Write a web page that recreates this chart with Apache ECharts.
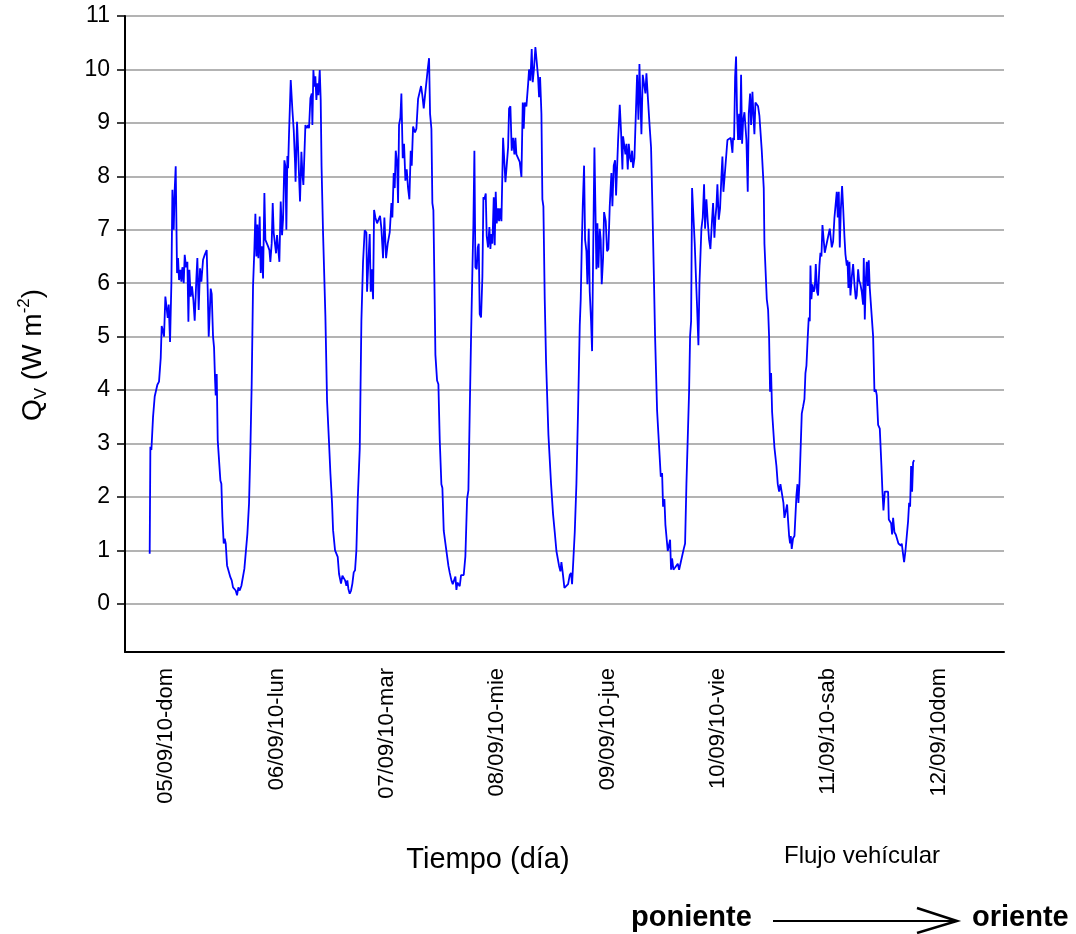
<!DOCTYPE html>
<html>
<head>
<meta charset="utf-8">
<script src="https://cdn.jsdelivr.net/npm/echarts/dist/echarts.min.js"></script>
<style>html,body{margin:0;padding:0;background:#fff}#c{width:1076px;height:934px}</style>
</head>
<body>
<div id="c"></div>
<script>
// x values: hours counted from 04/09/10 00:00 ; y values: Qv (W m-2)
const dayHours = [24, 48, 72, 96, 120, 144, 168, 192];
const dayLabels = ['05/09/10-dom','06/09/10-lun','07/09/10-mar','08/09/10-mie','09/09/10-jue','10/09/10-vie','11/09/10-sab','12/09/10dom'];
const yTicks = [0,1,2,3,4,5,6,7,8,9,10,11];

const seg1 = [[20.37,0.94],[20.52,2.94],[20.74,2.88],[21.10,3.5],[21.46,3.88],[21.82,3.88],[22.04,4.1],[22.40,4.16],[22.77,4.6],[22.98,5.2],[23.27,5.1],[23.49,5.0],[23.78,5.75],[24.07,5.75],[24.29,5.35],[24.51,5.6],[24.80,4.9],[25.09,6.0],[25.31,7.75],[25.60,7.0],[25.81,7.75],[26.03,8.19],[26.32,6.19],[26.54,6.47],[26.76,6.06],[27.05,6.25],[27.26,6.03],[27.48,6.3],[27.77,6.0],[27.99,6.53],[28.28,6.3],[28.57,6.4],[28.79,5.28],[29.00,6.25],[29.29,5.75],[29.58,5.94],[29.87,5.69],[30.16,5.3],[30.53,6.1],[30.74,6.47],[31.03,5.5],[31.32,6.28],[31.61,6.03],[31.98,6.44],[32.34,6.53],[32.56,6.5],[32.77,6.62],[32.99,5.88],[33.21,5.0],[33.43,5.44],[33.64,5.9],[33.86,5.8],[34.15,5.0],[34.37,4.8],[34.59,4.19],[34.73,3.9],[34.95,4.3],[35.17,3.06],[35.46,3.06],[35.75,2.31],[35.96,2.25],[36.18,1.63],[36.47,1.13],[36.69,1.22],[36.91,1.13],[37.20,0.72],[37.63,0.69],[37.92,0.5],[38.21,0.44],[38.50,0.31],[38.79,0.31],[39.08,0.25],[39.37,0.16],[39.66,0.31],[39.95,0.25],[40.32,0.34],[40.68,0.34],[40.97,0.66],[41.26,0.69]];
const seg2 = [[41.62,1.31],[41.98,1.88],[42.27,2.88],[42.56,4.13],[42.85,5.94],[43.14,6.63],[43.36,7.3],[43.58,6.5],[43.80,7.1],[44.01,6.47],[44.30,7.25],[44.52,6.19],[44.74,6.69],[45.03,6.09],[45.32,7.69],[45.54,6.81],[45.83,6.78],[46.12,6.69],[46.41,6.62],[46.62,6.4],[46.91,6.75],[47.13,7.5],[47.35,6.94],[47.64,6.94],[47.86,6.56],[48.07,6.9],[48.36,6.88],[48.58,6.4],[48.87,7.53],[49.16,6.9],[49.38,7.19],[49.67,8.3],[49.89,8.19],[50.10,7.0],[50.32,8.38],[50.47,8.15],[50.68,8.8],[51.05,9.8],[51.41,9.24],[51.70,8.87],[51.99,8.25],[52.10,7.9],[52.42,9.02],[52.64,8.56],[52.86,8.0],[53.07,7.53],[53.37,8.46],[53.58,8.06],[53.80,7.84],[54.24,8.96],[54.53,8.9],[54.82,8.96],[55.03,8.9],[55.33,9.46],[55.62,9.55],[55.76,8.96],[55.98,9.99],[56.20,9.68],[56.41,9.87],[56.63,9.43],[56.85,9.74],[57.07,9.52],[57.36,9.99],[57.57,9.43],[57.75,8.2],[58.08,6.94],[58.59,5.38],[58.95,3.8],[59.39,3.0],[59.68,2.44],[60.04,1.88],[60.26,1.38],[60.69,1.0],[60.98,1.03],[61.27,0.88],[61.56,0.56],[61.85,0.53],[61.99,0.38],[62.29,0.53],[62.58,0.5],[62.87,0.44],[63.16,0.34],[63.37,0.44],[63.59,0.28],[63.88,0.19],[64.17,0.25],[64.46,0.38],[64.75,0.59],[65.04,0.63],[65.33,1.0]];
const seg3 = [[65.62,1.94],[66.06,2.9],[66.42,5.3],[66.78,6.4],[67.14,6.99],[67.51,6.95],[67.65,5.84],[67.94,6.4],[68.23,6.92],[68.45,5.84],[68.67,6.26],[68.96,5.7],[69.18,7.37],[69.46,7.23],[69.83,7.12],[70.19,7.09],[70.48,7.26],[70.77,7.02],[71.13,6.47],[71.42,7.23],[71.79,6.47],[72.15,6.74],[72.58,6.95],[72.95,7.5],[73.16,7.23],[73.45,8.06],[73.67,7.78],[73.89,8.48],[74.18,8.27],[74.40,7.5],[74.61,8.96],[74.90,9.1],[75.12,9.55],[75.41,8.34],[75.70,8.61],[75.99,7.92],[76.28,8.13],[76.57,7.78],[76.86,7.57],[77.15,8.48],[77.37,8.2],[77.66,8.93],[78.09,8.82],[78.38,8.89],[78.75,9.45],[79.11,9.48],[79.40,9.69],[79.69,9.51],[79.98,9.27],[80.34,9.58],[80.56,9.58],[80.85,10.0],[81.14,10.21],[81.36,9.17],[81.65,8.89],[81.86,7.5],[82.08,7.37],[82.30,6.05],[82.52,4.66],[82.88,4.18],[83.17,4.11],[83.46,3.07],[83.82,2.24],[84.04,2.17],[84.33,1.37],[84.62,1.34],[84.91,0.99],[85.13,0.96],[85.35,0.71],[85.64,0.58],[86.00,0.44],[86.29,0.37],[86.58,0.44],[86.87,0.51],[87.09,0.26],[87.30,0.4],[87.59,0.37],[87.81,0.33],[88.10,0.54],[88.39,0.51],[88.68,0.54],[89.04,0.89]];
const seg4 = [[89.41,1.96],[89.70,2.13],[89.99,3.62],[90.28,5.01],[90.57,6.26],[90.78,7.09],[91.00,8.48],[91.22,6.3],[91.51,6.26],[91.73,6.67],[91.94,6.74],[92.16,5.42],[92.45,5.36],[92.74,6.12],[92.96,7.61],[93.18,7.57],[93.47,7.68],[93.68,6.88],[93.97,6.67],[94.26,7.05],[94.48,6.64],[94.70,6.92],[94.92,6.74],[95.21,7.61],[95.42,6.71],[95.64,7.71],[95.86,7.12],[96.15,7.4],[96.37,7.16],[96.58,7.4],[96.88,7.16],[97.24,8.72],[97.53,8.72],[97.75,7.89],[98.04,7.92],[98.33,8.54],[98.54,9.27],[98.83,9.31],[99.12,8.48],[99.41,8.72],[99.70,8.41],[99.92,8.72],[100.14,8.41],[100.50,8.41],[100.86,8.27],[101.23,7.99],[101.52,9.38],[101.73,8.89],[101.95,9.38],[102.31,9.31],[102.68,9.72],[102.89,10.0],[103.18,9.79],[103.47,10.38],[103.69,9.76],[103.98,10.03],[104.27,10.42],[104.49,10.42],[104.85,9.86],[105.07,9.48],[105.29,9.86],[105.58,9.17],[105.79,7.57],[106.01,7.44],[106.30,5.7],[106.59,4.53],[106.81,4.56],[107.10,3.17],[107.39,3.14],[107.68,2.24],[108.11,1.68],[108.48,1.34],[108.84,0.99],[109.13,0.99],[109.42,0.71],[109.71,0.61],[109.93,0.78],[110.22,0.58],[110.58,0.30],[111.01,0.30],[111.38,0.37],[111.74,0.54],[112.03,0.58],[112.25,0.37],[112.54,0.85]];
const seg5 = [[112.83,1.34],[113.19,2.24],[113.55,3.62],[113.92,5.22],[114.13,5.7],[114.35,6.67],[114.57,7.44],[114.86,8.2],[115.08,6.81],[115.37,6.6],[115.58,5.98],[115.87,7.02],[116.09,5.84],[116.38,5.29],[116.60,4.73],[116.82,6.47],[117.11,8.54],[117.32,7.44],[117.54,6.26],[117.76,7.12],[117.98,6.29],[118.27,7.02],[118.48,6.81],[118.70,5.98],[118.99,6.47],[119.21,7.33],[119.57,7.16],[119.86,6.6],[120.15,6.64],[120.44,7.44],[120.80,8.06],[121.02,7.44],[121.31,8.2],[121.60,8.3],[121.82,7.64],[122.04,7.64],[122.26,8.68],[122.62,9.34],[122.91,8.82],[123.20,8.13],[123.34,8.75],[123.63,8.75],[123.85,8.41],[124.07,8.61],[124.36,8.13],[124.58,8.61],[124.87,8.34],[125.08,8.27],[125.30,8.48],[125.52,8.16],[125.81,8.34],[126.10,8.34],[126.39,9.9],[126.68,9.06],[126.90,10.1],[127.11,10.07],[127.33,8.79],[127.62,9.9],[127.91,9.93],[128.20,9.55],[128.42,9.93],[128.71,9.51],[129.07,9.0],[129.43,8.54],[129.72,7.44],[130.01,6.26],[130.30,5.01],[130.52,4.32],[130.74,3.62],[131.03,3.17],[131.32,3.14],[131.54,2.38],[131.83,2.45],[132.04,1.82],[132.33,1.96],[132.55,1.48],[132.77,1.48],[133.06,0.99],[133.35,0.99],[133.57,1.2],[133.78,0.64],[134.00,0.85],[134.29,0.64],[134.66,0.68],[134.94,0.71],[135.24,0.75],[135.53,0.64],[135.89,0.78],[136.25,0.78],[136.54,1.03],[136.83,1.13]];
const seg6 = [[137.12,2.24],[137.41,2.24],[137.70,3.97],[137.92,5.01],[138.14,5.29],[138.35,7.78],[138.64,7.78],[138.93,6.74],[139.22,6.05],[139.44,5.56],[139.73,4.84],[139.95,5.98],[140.17,5.98],[140.38,7.02],[140.67,7.23],[140.96,7.85],[141.18,7.02],[141.47,7.57],[141.76,7.16],[142.05,6.81],[142.34,6.64],[142.63,7.09],[142.92,7.5],[143.21,6.85],[143.43,7.23],[143.65,7.44],[143.86,7.85],[144.15,7.19],[144.44,7.4],[144.73,7.99],[144.95,8.37],[145.17,7.71],[145.46,8.03],[145.75,8.06],[146.04,8.68],[146.40,8.68],[146.76,8.72],[147.13,8.44],[147.27,8.72],[147.49,8.68],[147.71,9.86],[147.92,10.24],[148.14,9.17],[148.36,8.68],[148.58,9.17],[148.79,8.68],[149.01,9.9],[149.23,8.61],[149.45,9.03],[149.74,9.2],[149.96,9.17],[150.17,8.68],[150.46,7.71],[150.68,9.17],[150.97,9.55],[151.19,8.96],[151.48,9.58],[151.70,9.13],[151.91,8.79],[152.13,9.38],[152.42,9.38],[152.71,9.31],[153.00,9.13],[153.29,9.1],[153.51,8.48],[153.73,8.51],[153.94,7.78],[154.09,6.74],[154.38,6.74],[154.60,5.7],[154.89,5.5],[155.10,5.01],[155.32,3.97],[155.54,4.32],[155.76,3.59],[155.97,3.56],[156.26,2.93],[156.48,2.93],[156.70,2.58],[156.99,2.24],[157.28,2.1],[157.57,2.24],[157.93,2.24],[158.22,1.89],[158.44,1.61],[158.73,1.58],[159.02,1.86],[159.24,1.55],[159.46,1.27],[159.67,1.13],[159.82,1.27],[160.03,1.03],[160.32,1.23],[160.62,1.27],[160.83,1.3]];
const seg7 = [[161.05,2.03],[161.27,2.24],[161.48,1.89],[161.70,2.24],[161.92,2.79],[162.21,3.56],[162.50,3.69],[162.79,3.83],[163.01,4.32],[163.23,4.46],[163.52,5.01],[163.73,5.36],[163.95,5.29],[164.10,6.33],[164.31,5.7],[164.53,5.98],[164.82,5.84],[165.04,5.91],[165.26,6.36],[165.55,5.84],[165.76,5.77],[166.05,6.33],[166.27,6.57],[166.49,6.5],[166.71,7.09],[167.00,7.12],[167.21,6.57],[167.50,6.57],[167.72,6.78],[168.01,6.81],[168.30,7.02],[168.52,7.05],[168.74,6.67],[169.03,6.78],[169.32,7.23],[169.61,7.23],[169.82,7.71],[170.04,7.23],[170.26,7.71],[170.48,6.67],[170.70,7.37],[170.98,7.82],[171.20,7.44],[171.49,6.88],[171.71,6.54],[172.00,6.33],[172.15,6.43],[172.36,5.91],[172.58,6.4],[172.80,5.77],[173.09,6.12],[173.38,6.36],[173.67,5.98],[173.96,5.7],[174.17,5.77],[174.47,6.26],[174.68,6.05],[174.97,5.98],[175.26,5.84],[175.55,5.6],[175.70,6.47],[175.92,5.32],[176.13,6.05],[176.35,6.4],[176.57,5.95],[176.78,6.43],[177.00,5.91],[177.37,5.91],[177.73,5.01],[178.02,3.97],[178.31,4.01],[178.53,3.9],[178.82,3.35],[179.18,3.28],[179.54,2.58],[179.76,2.1],[179.98,1.75],[180.27,2.1],[180.63,2.1],[180.99,2.1],[181.14,1.58],[181.43,1.55],[181.64,1.51],[181.86,1.3],[182.08,1.61],[182.37,1.34],[182.66,1.3],[182.95,1.27],[183.24,1.13],[183.53,1.13],[183.75,1.09],[183.96,1.13],[184.26,0.92],[184.47,0.78],[184.76,0.99],[185.05,1.27],[185.34,1.55],[185.56,1.89],[185.78,1.82],[185.99,2.58],[186.21,2.1],[186.43,2.65],[186.65,2.69]];

const qvData = [].concat(seg1, seg2, seg3, seg4, seg5, seg6, seg7);

const FONT = '"Liberation Sans", Arial, sans-serif';
const chart = echarts.init(document.getElementById('c'), null, {renderer: 'canvas'});
chart.setOption({
  animation: false,
  backgroundColor: '#ffffff',
  grid: {left: 125, right: 72, top: 16, bottom: 282, containLabel: false},
  xAxis: {
    type: 'value',
    min: 15,
    max: 206.2,
    axisLine: {show: true, onZero: false, lineStyle: {color: '#000', width: 2}},
    axisTick: {show: false},
    splitLine: {show: false},
    axisLabel: {
      customValues: dayHours,
      rotate: 90,
      margin: 16,
      fontSize: 22,
      fontFamily: FONT,
      color: '#000',
      formatter: function (v) {
        const i = dayHours.indexOf(Math.round(v));
        return i >= 0 ? dayLabels[i] : '';
      }
    }
  },
  yAxis: {
    type: 'value',
    min: -0.9,
    max: 11,
    minInterval: 1,
    maxInterval: 1,
    splitNumber: 12,
    axisLine: {show: true, onZero: false, lineStyle: {color: '#000', width: 2}},
    axisTick: {show: true, customValues: yTicks, length: 8, lineStyle: {color: '#000', width: 1.5}},
    splitLine: {show: true, lineStyle: {color: '#9a9a9a', width: 1.5}},
    axisLabel: {
      customValues: yTicks,
      margin: 15,
      fontSize: 23,
      fontFamily: FONT,
      color: '#000',
      formatter: function (v) { return (v >= 0 && Math.abs(v - Math.round(v)) < 1e-6) ? String(Math.round(v)) : ''; }
    }
  },
  graphic: [
    {type: 'text', x: 33, y: 355, rotation: Math.PI / 2,
      style: {
        text: '{a|Q}{b|V}{a| (W m}{c|-2}{a|)}',
        align: 'center', verticalAlign: 'middle',
        rich: {
          a: {fontSize: 28, fontFamily: FONT, fill: '#000', lineHeight: 34},
          b: {fontSize: 17, fontFamily: FONT, fill: '#000', lineHeight: 16, verticalAlign: 'bottom'},
          c: {fontSize: 17, fontFamily: FONT, fill: '#000', lineHeight: 16, verticalAlign: 'top'}
        }
      }},
    {type: 'text', x: 488, y: 860, style: {text: 'Tiempo (día)', font: '29px ' + FONT, fill: '#000', align: 'center', verticalAlign: 'middle'}},
    {type: 'text', x: 862, y: 856, style: {text: 'Flujo vehícular', font: '24px ' + FONT, fill: '#000', align: 'center', verticalAlign: 'middle'}},
    {type: 'text', x: 631, y: 918, style: {text: 'poniente', font: 'bold 29px ' + FONT, fill: '#000', align: 'left', verticalAlign: 'middle'}},
    {type: 'line', shape: {x1: 773, y1: 921, x2: 954, y2: 921}, style: {stroke: '#000', lineWidth: 2}},
    {type: 'polyline', shape: {points: [[917, 908], [957, 921], [917, 933]]}, style: {stroke: '#000', lineWidth: 2.5, fill: null}},
    {type: 'text', x: 972, y: 918, style: {text: 'oriente', font: 'bold 29px ' + FONT, fill: '#000', align: 'left', verticalAlign: 'middle'}}
  ],
  series: [{
    type: 'line',
    data: qvData,
    showSymbol: false,
    symbol: 'none',
    sampling: null,
    lineStyle: {color: '#0000ff', width: 1.8},
    emphasis: {disabled: true}
  }]
});
</script>
</body>
</html>
